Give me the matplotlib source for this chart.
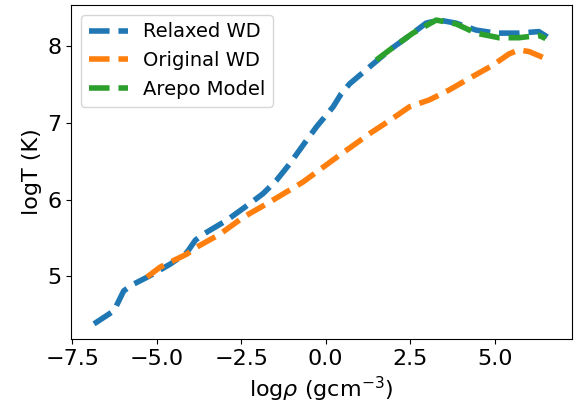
import matplotlib
matplotlib.use("Agg")
import matplotlib.pyplot as plt

# logrho / logT profiles
rho_relaxed = [-6.86, -6.27, -5.98, -5.68, -5.19, -4.60, -4.11, -3.86, -3.62, -2.93,
               -2.24, -1.85, -1.46, -1.06, -0.67, -0.27, 0.22, 0.46, 0.71, 1.30,
               1.89, 2.58, 2.97, 3.36, 3.86, 4.45, 5.04, 5.72, 6.31, 6.56]
T_relaxed = [4.38, 4.55, 4.81, 4.90, 5.01, 5.16, 5.31, 5.47, 5.55, 5.73,
             5.95, 6.08, 6.25, 6.47, 6.71, 6.95, 7.21, 7.38, 7.51, 7.73,
             7.95, 8.17, 8.30, 8.34, 8.30, 8.21, 8.17, 8.17, 8.19, 8.12]

rho_original = [-5.29, -4.90, -4.11, -3.82, -3.13, -2.44, -1.65, -0.67, 0.32, 1.30,
                1.89, 2.48, 3.07, 3.66, 4.25, 4.94, 5.43, 5.72, 6.02, 6.61]
T_original = [4.99, 5.12, 5.29, 5.38, 5.55, 5.77, 5.97, 6.23, 6.55, 6.86,
              7.03, 7.21, 7.30, 7.43, 7.58, 7.75, 7.90, 7.95, 7.93, 7.82]

rho_arepo = [1.50, 1.89, 2.58, 3.27, 3.86, 4.45, 5.13, 5.72, 6.31, 6.51]
T_arepo = [7.82, 7.95, 8.17, 8.34, 8.29, 8.17, 8.11, 8.11, 8.14, 8.10]

plt.rcParams['font.size'] = 16

fig, ax = plt.subplots(figsize=(5.84, 4.08), dpi=100)
fig.subplots_adjust(left=0.122, right=0.979, top=0.988, bottom=0.169)

ax.plot(rho_relaxed, T_relaxed, '--', lw=4, label="Relaxed WD")
ax.plot(rho_original, T_original, '--', lw=4, label="Original WD")
ax.plot(rho_arepo, T_arepo, '--', lw=4, label="Arepo Model")

ax.set_xlabel(r"log$\rho$ (gcm$^{-3}$)")
ax.set_ylabel("logT (K)")
ax.set_xticks([-7.5, -5.0, -2.5, 0.0, 2.5, 5.0])
ax.set_yticks([5, 6, 7, 8])
ax.legend(loc="upper left", fontsize=14)

fig.savefig("out.png", dpi=100)
